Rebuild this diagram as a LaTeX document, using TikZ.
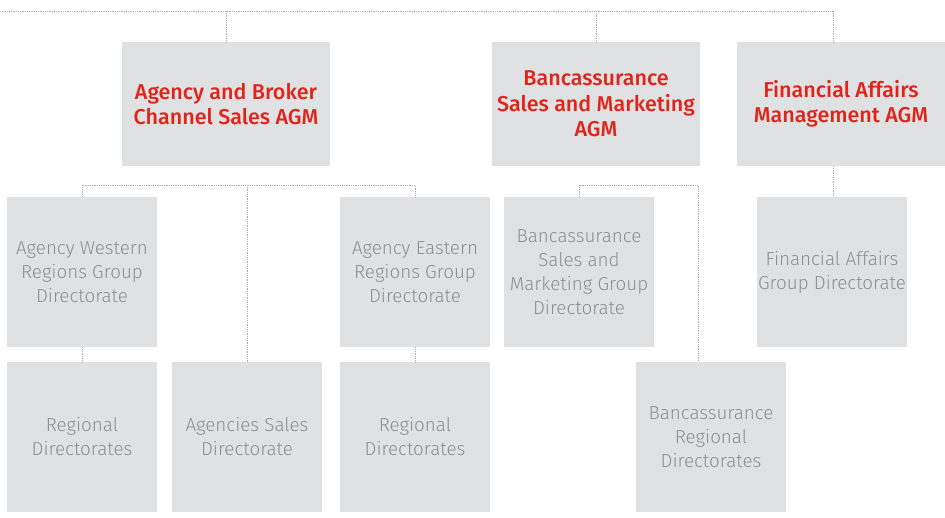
\documentclass[tikz,border=0pt]{standalone}
\usepackage{fontspec}
\setmainfont{Fira Sans}[UprightFont = * Light, BoldFont = * Medium]
\usepackage{tikz}
\usetikzlibrary{positioning, calc}
\definecolor{boxgrey}{HTML}{E0E1E3}
\definecolor{agmred}{HTML}{E2231A}
\definecolor{unitgrey}{HTML}{8F8F8F}
\definecolor{linkgrey}{HTML}{ABABAB}

\tikzset{
  agm/.style={fill=boxgrey, minimum width=208pt, minimum height=124pt, inner sep=0pt,
    text=agmred, align=center, font=\fontsize{21.5}{25.5}\selectfont\bfseries},
  unit/.style={fill=boxgrey, minimum width=150pt, minimum height=150pt, inner sep=0pt,
    text=unitgrey, align=center, font=\fontsize{18.8}{24}\selectfont},
  link/.style={linkgrey, line width=0.8pt, densely dotted}
}

\begin{document}
\begin{tikzpicture}[x=1pt, y=-1pt]
  \useasboundingbox (0,0) rectangle (945,517);

  % Assistant general managers
  \node[agm] (abc) at (226,104) {Agency and Broker\\Channel Sales AGM};
  \node[agm] (bsm) at (596,104) {Bancassurance\\Sales and Marketing\\AGM};
  \node[agm] (fam) at (841,104) {Financial Affairs\\Management AGM};

  % Directorates under agency and broker channel
  \node[unit] (west) at (82,272) {Agency Western\\Regions Group\\Directorate};
  \node[unit] (east) at (415,272) {Agency Eastern\\Regions Group\\Directorate};
  \node[unit] (westreg) at (82,437) {Regional\\Directorates};
  \node[unit] (agsales) at (247,437) {Agencies Sales\\Directorate};
  \node[unit] (eastreg) at (415,437) {Regional\\Directorates};

  % Bancassurance directorates
  \node[unit] (bancgrp) at (579,272) {Bancassurance\\Sales and\\Marketing Group\\Directorate};
  \node[unit] (bancreg) at (711,437) {Bancassurance\\Regional\\Directorates};

  % Financial affairs
  \node[unit] (fingrp) at (832,272) {Financial Affairs\\Group Directorate};

  % Top rail
  \coordinate (rail) at (0,11);
  \coordinate (famtop) at ([xshift=-8pt]fam.north);
  \draw[link] (rail) -- (famtop |- rail);
  \draw[link] (abc.north |- rail) -- (abc.north);
  \draw[link] (bsm.north |- rail) -- (bsm.north);
  \draw[link] (famtop |- rail) -- (famtop);

  % Agency rail
  \coordinate (agrail) at (0,185);
  \draw[link] (west.north) -- (west.north |- agrail) -- (east.north |- agrail) -- (east.north);
  \draw[link] (agsales.north |- agrail) -- (agsales.north);
  \draw[link] (west.south) -- (westreg.north);
  \draw[link] (east.south) -- (eastreg.north);

  % Bancassurance rail
  \coordinate (bancx) at (698,0);
  \draw[link] (bancgrp.north) -- (bancgrp.north |- agrail) -- (bancx |- agrail) -- (bancx |- bancreg.north);

  % Financial affairs link
  \draw[link] (famtop |- fam.south) -- (famtop |- fingrp.north);
\end{tikzpicture}
\end{document}
